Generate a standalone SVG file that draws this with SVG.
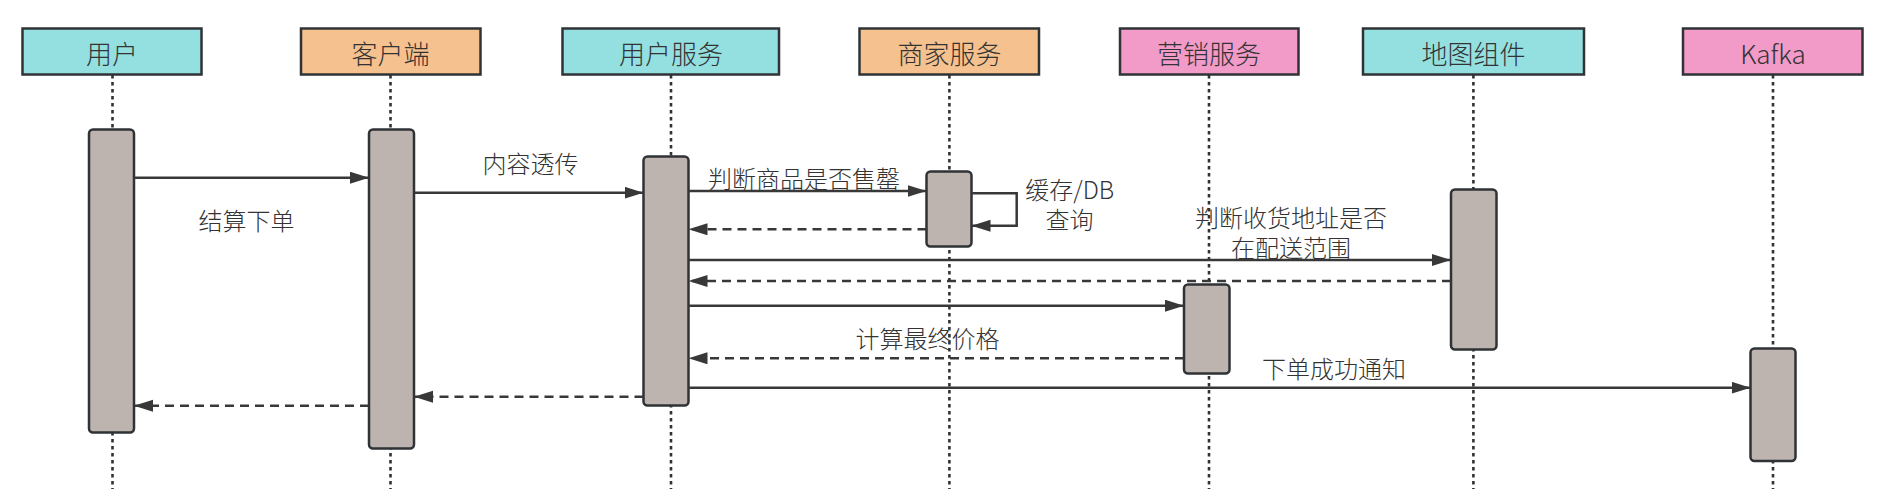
<svg xmlns="http://www.w3.org/2000/svg" width="1891" height="489" viewBox="0 0 1891 489">
<style>
.hdr{stroke:#2f3336;stroke-width:2.5}
.cyan{fill:#94e0e0}
.orange{fill:#f5c18e}
.pink{fill:#f29ac8}
.life{stroke:#2f3336;stroke-width:2.6;stroke-dasharray:3.5 3.5;fill:none}
.act{fill:#bdb3af;stroke:#2f3336;stroke-width:2.5}
.msg{stroke:#383838;stroke-width:2.5;fill:none}
.ret{stroke:#383838;stroke-width:2.5;fill:none;stroke-dasharray:9 6}
text{font-family:"Noto Sans CJK SC","Noto Sans",sans-serif;font-weight:300;fill:#333;dominant-baseline:central;text-anchor:middle}
.ht{font-size:26px}
.lt{font-size:24px}
</style>
<defs>
<marker id="ah" markerUnits="userSpaceOnUse" markerWidth="20" markerHeight="14" refX="19" refY="6" orient="auto">
<path d="M0,0 L19,6 L0,12 z" fill="#383838"/>
</marker>
</defs>
<rect width="1891" height="489" fill="#ffffff"/>
<g id="lifelines">
<line class="life" x1="112.5" y1="75" x2="112.5" y2="489"/>
<line class="life" x1="390.5" y1="75" x2="390.5" y2="489"/>
<line class="life" x1="671" y1="75" x2="671" y2="489"/>
<line class="life" x1="949.4" y1="75" x2="949.4" y2="489"/>
<line class="life" x1="1209" y1="75" x2="1209" y2="489"/>
<line class="life" x1="1473.4" y1="75" x2="1473.4" y2="489"/>
<line class="life" x1="1773" y1="75" x2="1773" y2="489"/>
</g>
<g id="node-user">
<rect class="hdr cyan" x="22.5" y="28.5" width="179" height="46"/>
<text class="ht" x="112" y="52">用户</text>
<rect class="act" x="89" y="129.5" width="45" height="303" rx="4"/>
</g>
<g id="node-client">
<rect class="hdr orange" x="301" y="28.5" width="179.5" height="46"/>
<text class="ht" x="390.5" y="52">客户端</text>
<rect class="act" x="369" y="129.5" width="45" height="319" rx="4"/>
</g>
<g id="node-userservice">
<rect class="hdr cyan" x="562.5" y="28.5" width="216.5" height="46"/>
<text class="ht" x="671" y="52">用户服务</text>
<rect class="act" x="643.5" y="156.5" width="45" height="249" rx="4"/>
</g>
<g id="node-merchant">
<rect class="hdr orange" x="859.5" y="28.5" width="179.5" height="46"/>
<text class="ht" x="949.4" y="52">商家服务</text>
<rect class="act" x="926.5" y="171.5" width="45" height="75" rx="4"/>
</g>
<g id="node-marketing">
<rect class="hdr pink" x="1120" y="28.5" width="178.5" height="46"/>
<text class="ht" x="1209" y="52">营销服务</text>
<rect class="act" x="1184" y="284.5" width="45.5" height="89" rx="4"/>
</g>
<g id="node-map">
<rect class="hdr cyan" x="1363" y="28.5" width="221" height="46"/>
<text class="ht" x="1473.5" y="52">地图组件</text>
<rect class="act" x="1451" y="189.5" width="45.5" height="160" rx="4"/>
</g>
<g id="node-kafka">
<rect class="hdr pink" x="1683" y="28.5" width="179.5" height="46"/>
<text class="ht" x="1773" y="52">Kafka</text>
<rect class="act" x="1750.5" y="348.5" width="45" height="112.5" rx="4"/>
</g>
<g id="connectors">
<line class="msg" x1="134" y1="177.7" x2="369" y2="177.7" marker-end="url(#ah)"/>
<line class="msg" x1="414" y1="192.7" x2="643.5" y2="192.7" marker-end="url(#ah)"/>
<line class="msg" x1="688.5" y1="191" x2="926.5" y2="191" marker-end="url(#ah)"/>
<polyline class="msg" points="971.5,193.3 1016.7,193.3 1016.7,225.7 971.5,225.7" marker-end="url(#ah)"/>
<line class="ret" x1="926.5" y1="229.3" x2="688.5" y2="229.3" marker-end="url(#ah)"/>
<line class="msg" x1="688.5" y1="260" x2="1451" y2="260" marker-end="url(#ah)"/>
<line class="ret" x1="1451" y1="281" x2="688.5" y2="281" marker-end="url(#ah)"/>
<line class="msg" x1="688.5" y1="305.7" x2="1184" y2="305.7" marker-end="url(#ah)"/>
<line class="ret" x1="1184" y1="358.3" x2="688.5" y2="358.3" marker-end="url(#ah)"/>
<line class="msg" x1="688.5" y1="387.7" x2="1750.5" y2="387.7" marker-end="url(#ah)"/>
<line class="ret" x1="643.5" y1="396.7" x2="414" y2="396.7" marker-end="url(#ah)"/>
<line class="ret" x1="369" y1="405.7" x2="134" y2="405.7" marker-end="url(#ah)"/>
</g>
<g id="labels">
<text class="lt" x="246.6" y="219">结算下单</text>
<text class="lt" x="530.6" y="162.5">内容透传</text>
<text class="lt" x="804" y="177.5">判断商品是否售罄</text>
<text class="lt" x="1069.7" y="188"><tspan x="1069.7" y="188">缓存/DB</tspan><tspan x="1069.5" y="218">查询</tspan></text>
<text class="lt" x="1291" y="216"><tspan x="1291" y="216">判断收货地址是否</tspan><tspan x="1291" y="246">在配送范围</tspan></text>
<text class="lt" x="927.4" y="337">计算最终价格</text>
<text class="lt" x="1334" y="367">下单成功通知</text>
</g>
</svg>
